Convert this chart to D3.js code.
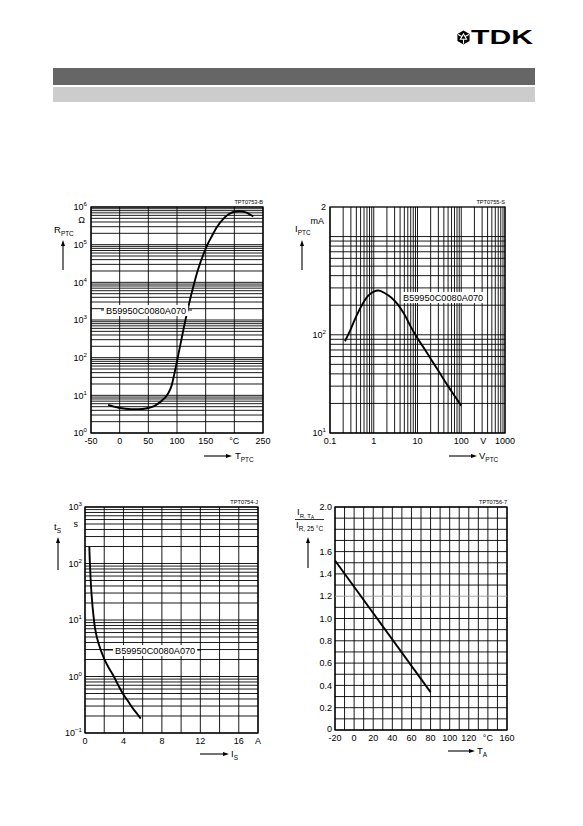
<!DOCTYPE html>
<html><head><meta charset="utf-8">
<script src="https://cdn.jsdelivr.net/npm/d3@7/dist/d3.min.js"></script>
<style>
body{margin:0;background:#fff}
svg{display:block;font-family:"Liberation Sans",Arial,Helvetica,sans-serif}
</style></head>
<body>
<svg id="page" width="583" height="826"></svg>
<script>
// ---------- DATA ----------
// Chart 1: R_PTC vs T_PTC
const rptcTemp = [-20,-10,0,10,20,30,40,50,60,70,75,80,85,90,95,100,105,110,115,120,125,130,135,140,145,150,155,160,170,180,190,200,210,220,233];
const rptcOhm  = [5.6,5.0,4.6,4.4,4.3,4.3,4.35,4.6,5.2,6.5,7.6,9.0,11.5,17,35,80,190,450,1050,2300,4800,9500,18000,31000,50000,78000,115000,160000,300000,470000,640000,750000,770000,720000,560000];
const rptcXTicks = [-50,0,50,100,150,200,250];
const rptcXLabels = ["-50","0","50","100","150","°C","250"];
const rptcYExp = [0,1,2,3,4,5,6];

// Chart 2: I_PTC vs V_PTC
const iptcVolt = [0.22,0.3,0.4,0.55,0.75,1.0,1.3,1.8,2.5,3.5,5,7,10,15,20,30,50,70,100];
const iptcMilliamp = [86,115,155,205,250,275,282,265,240,205,162,121,92,70,57,43,30,24,19];
const iptcXTicks = [0.1,1,10,100,320,1000];
const iptcXLabels = ["0.1","1","10","100","V","1000"];
const iptcYTicks = [10,100,2000];
const iptcYLabels = [["10","1"],["10","2"],["2",""]];

// Chart 3: t_S vs I_S
const tsAmp = [0.45,0.5,0.58,0.7,0.87,1.04,1.38,2.0,2.5,3.0,3.5,4.0,4.5,5.0,5.5,5.8];
const tsSec = [200,110,55,26,12.5,7.2,4.0,2.05,1.4,1.0,0.68,0.48,0.36,0.27,0.21,0.18];
const tsXTicks = [0,4,8,12,16,18];
const tsXLabels = ["0","4","8","12","16","A"];
const tsYExp = [-1,0,1,2,3];

// Chart 4: I_R,TA / I_R,25°C vs T_A
const irTemp = [-20,80];
const irRatio = [1.52,0.34];
const irXTicks = [-20,0,20,40,60,80,100,120,140,160];
const irXLabels = ["-20","0","20","40","60","80","100","120","°C","160"];
const irYTicks = [0,0.2,0.4,0.6,0.8,1.0,1.2,1.4,1.6,2.0];
const irYLabels = ["0","0.2","0.4","0.6","0.8","1.0","1.2","1.4","1.6","2.0"];

const partNo = "B59950C0080A070";

// ---------- HELPERS ----------
const svg = d3.select("#page");
const TICK = 9;

function rich(g, x, y, parts, size, anchor) {
  const t = g.append("text").attr("x", x).attr("y", y)
    .attr("font-size", size).attr("text-anchor", anchor || "start").attr("fill", "#000");
  let cur = 0;
  parts.forEach(p => {
    if (!p.t) return;
    let shift = 0, fs = size;
    if (p.sup) { shift = -size * 0.42; fs = size * 0.68; }
    if (p.sub) { shift = size * 0.3; fs = size * 0.68; }
    t.append("tspan").attr("dy", (shift - cur).toFixed(2)).attr("font-size", fs).text(p.t);
    cur = shift;
  });
  return t;
}

function logGrid(lo, hi) {
  const out = [];
  for (let e = Math.floor(Math.log10(lo)) - 1; e <= Math.ceil(Math.log10(hi)); e++) {
    for (let m = 1; m < 10; m++) {
      const v = +(m * Math.pow(10, e)).toPrecision(6);
      if (v >= lo * 0.9999 && v <= hi * 1.0001) out.push(v);
    }
  }
  return out;
}

function grid(g, x, y, xs, ys, sw) {
  const [X0, X1] = x.range(), [Y1, Y0] = y.range();
  g.append("g").selectAll("line").data(xs).join("line")
    .attr("x1", d => x(d)).attr("x2", d => x(d)).attr("y1", Y0).attr("y2", Y1)
    .attr("stroke", "#000").attr("stroke-width", sw);
  g.append("g").selectAll("line").data(ys).join("line")
    .attr("x1", X0).attr("x2", X1).attr("y1", d => y(d)).attr("y2", d => y(d))
    .attr("stroke", "#000").attr("stroke-width", sw);
  g.append("rect").attr("x", X0).attr("y", Y0).attr("width", X1 - X0).attr("height", Y1 - Y0)
    .attr("fill", "none").attr("stroke", "#000").attr("stroke-width", 1.3);
}

function xLabels(g, x, y, ticks, labels, dy) {
  const Y1 = y.range()[0];
  g.append("g").selectAll("text").data(ticks).join("text")
    .attr("x", d => x(d)).attr("y", Y1 + dy).attr("text-anchor", "middle")
    .attr("font-size", TICK).text((d, i) => labels[i]);
}

function upArrow(g, xp, yb, yt) {
  g.append("line").attr("x1", xp).attr("x2", xp).attr("y1", yb).attr("y2", yt + 5)
    .attr("stroke", "#000").attr("stroke-width", 1.1);
  g.append("path").attr("d", `M${xp - 2},${yt + 6}L${xp},${yt}L${xp + 2},${yt + 6}Z`).attr("fill", "#000");
}
function rightArrow(g, x0, x1, yp) {
  g.append("line").attr("x1", x0).attr("x2", x1 - 5).attr("y1", yp).attr("y2", yp)
    .attr("stroke", "#000").attr("stroke-width", 1.1);
  g.append("path").attr("d", `M${x1 - 6},${yp - 2}L${x1},${yp}L${x1 - 6},${yp + 2}Z`).attr("fill", "#000");
}

function boxLabel(g, xp, yp, txt) {
  const t = g.append("text").attr("x", xp).attr("y", yp).attr("font-size", 9.2).text(txt);
  const b = t.node().getBBox();
  g.insert("rect", "text").attr("x", b.x - 2).attr("y", b.y - 0.5)
    .attr("width", b.width + 4).attr("height", b.height + 1).attr("fill", "#fff");
  return b;
}

function tpt(g, xr, yp, txt) {
  g.append("text").attr("x", xr).attr("y", yp).attr("text-anchor", "end")
    .attr("font-size", 5.6).text(txt);
}

// ---------- HEADER ----------
svg.append("rect").attr("x", 53).attr("y", 68).attr("width", 482).attr("height", 17).attr("fill", "#666666");
svg.append("rect").attr("x", 53).attr("y", 87).attr("width", 482).attr("height", 15).attr("fill", "#cccccc");
svg.append("text").attr("x", 471).attr("y", 44).attr("font-size", 20).attr("font-weight", "bold")
  .attr("textLength", 62).attr("lengthAdjust", "spacingAndGlyphs").text("TDK");
(function logo() {
  const cx = 463.5, cy = 37.5, r = 7;
  const lg = svg.append("g");
  const hex = d3.range(6).map(k => {
    const a = Math.PI / 6 + k * Math.PI / 3;
    return [cx + r * Math.cos(a), cy + r * Math.sin(a)];
  });
  lg.append("path").attr("d", "M" + hex.join("L") + "Z").attr("fill", "#000");
  const tri = d3.range(3).map(k => {
    const a = -Math.PI / 2 + k * 2 * Math.PI / 3;
    return [cx + 3.6 * Math.cos(a), cy + 3.6 * Math.sin(a)];
  });
  lg.append("path").attr("d", "M" + tri.join("L") + "Z").attr("fill", "none").attr("stroke", "#fff").attr("stroke-width", 1.1);
  d3.range(3).forEach(k => {
    const a = Math.PI / 2 + k * 2 * Math.PI / 3;
    lg.append("line").attr("x1", cx + 1.8 * Math.cos(a)).attr("y1", cy + 1.8 * Math.sin(a))
      .attr("x2", cx + 6.2 * Math.cos(a)).attr("y2", cy + 6.2 * Math.sin(a))
      .attr("stroke", "#fff").attr("stroke-width", 1.1);
  });
})();

const smooth = d3.curveCatmullRom.alpha(0.5);
const curvePath = (x, y, xs, ys, curve) =>
  d3.line().x(d => x(d[0])).y(d => y(d[1])).curve(curve)(xs.map((v, i) => [v, ys[i]]));

// ---------- CHART 1 ----------
(function () {
  const g = svg.append("g");
  const x = d3.scaleLinear().domain([-50, 250]).range([91, 263]);
  const y = d3.scaleLog().domain([1, 1e6]).range([433, 207]);
  grid(g, x, y, rptcXTicks, logGrid(1, 1e6), 0.9);
  g.append("path").attr("d", curvePath(x, y, rptcTemp, rptcOhm, smooth))
    .attr("fill", "none").attr("stroke", "#000").attr("stroke-width", 1.9);
  const b = boxLabel(g, 106, 313.5, partNo);
  g.append("line").attr("x1", 101).attr("x2", b.x - 2).attr("y1", 310).attr("y2", 310).attr("stroke", "#000").attr("stroke-width", 0.9);
  g.append("line").attr("x1", b.x + b.width + 2).attr("x2", 192).attr("y1", 310).attr("y2", 310).attr("stroke", "#000").attr("stroke-width", 0.9);
  xLabels(g, x, y, rptcXTicks, rptcXLabels, 10.5);
  rptcYExp.forEach(e => rich(g, 87, y(Math.pow(10, e)) + 3.2, [{t: "10"}, {t: String(e), sup: true}], TICK, "end"));
  rich(g, 85, 223, [{t: "Ω"}], 9, "end");
  rich(g, 54, 233, [{t: "R"}, {t: "PTC", sub: true}], 9.5, "start");
  upArrow(g, 63, 270, 240);
  rightArrow(g, 204, 232, 456);
  rich(g, 235, 459, [{t: "T"}, {t: "PTC", sub: true}], 9.5, "start");
  tpt(g, 263, 204, "TPT0753-B");
})();

// ---------- CHART 2 ----------
(function () {
  const g = svg.append("g");
  const x = d3.scaleLog().domain([0.1, 1000]).range([330, 505]);
  const y = d3.scaleLog().domain([10, 2000]).range([433, 207]);
  grid(g, x, y, logGrid(0.1, 1000), logGrid(10, 1000), 0.9);
  g.append("path").attr("d", curvePath(x, y, iptcVolt, iptcMilliamp, smooth))
    .attr("fill", "none").attr("stroke", "#000").attr("stroke-width", 1.9);
  boxLabel(g, 403, 300.5, partNo);
  xLabels(g, x, y, iptcXTicks, iptcXLabels, 10.5);
  iptcYTicks.forEach((v, i) => rich(g, 326, y(v) + 3.2, [{t: iptcYLabels[i][0]}, {t: iptcYLabels[i][1], sup: true}], TICK, "end"));
  rich(g, 324, 224, [{t: "mA"}], 9, "end");
  rich(g, 295, 232, [{t: "I"}, {t: "PTC", sub: true}], 9.5, "start");
  upArrow(g, 302, 270, 240);
  rightArrow(g, 449, 477, 456);
  rich(g, 479, 459, [{t: "V"}, {t: "PTC", sub: true}], 9.5, "start");
  tpt(g, 505, 204, "TPT0755-S");
})();

// ---------- CHART 3 ----------
(function () {
  const g = svg.append("g");
  const x = d3.scaleLinear().domain([0, 18]).range([85, 258]);
  const y = d3.scaleLog().domain([0.1, 1000]).range([733, 507]);
  grid(g, x, y, d3.range(0, 19, 2), logGrid(0.1, 1000), 0.9);
  g.append("path").attr("d", curvePath(x, y, tsAmp, tsSec, smooth))
    .attr("fill", "none").attr("stroke", "#000").attr("stroke-width", 1.9);
  const b = boxLabel(g, 115, 653.5, partNo);
  g.append("line").attr("x1", 103).attr("x2", b.x - 2).attr("y1", 650).attr("y2", 650).attr("stroke", "#000").attr("stroke-width", 0.9);
  g.append("line").attr("x1", b.x + b.width + 2).attr("x2", b.x + b.width + 6).attr("y1", 650).attr("y2", 650).attr("stroke", "#000").attr("stroke-width", 0.9);
  xLabels(g, x, y, tsXTicks, tsXLabels, 10.5);
  tsYExp.forEach(e => rich(g, 82, y(Math.pow(10, e)) + 3.2, [{t: "10"}, {t: String(e).replace("-", "\u2212"), sup: true}], TICK, "end"));
  rich(g, 78, 527, [{t: "s"}], 9, "end");
  rich(g, 54, 530, [{t: "t"}, {t: "S", sub: true}], 9.5, "start");
  upArrow(g, 58, 570, 537);
  rightArrow(g, 200, 229, 754);
  rich(g, 231, 757, [{t: "I"}, {t: "S", sub: true}], 9.5, "start");
  tpt(g, 258, 504, "TPT0754-J");
})();

// ---------- CHART 4 ----------
(function () {
  const g = svg.append("g");
  const x = d3.scaleLinear().domain([-20, 160]).range([335, 507]);
  const y = d3.scaleLinear().domain([0, 2]).range([730, 507]);
  const yg = d3.range(0, 21).map(k => +(k / 10).toFixed(1));
  grid(g, x, y, d3.range(-20, 161, 10), yg.filter(v => v !== 1.2), 0.9);
  g.append("line").attr("x1", 335).attr("x2", 507).attr("y1", y(1.2)).attr("y2", y(1.2))
    .attr("stroke", "#999").attr("stroke-width", 0.9);
  g.append("path").attr("d", curvePath(x, y, irTemp, irRatio, d3.curveLinear))
    .attr("fill", "none").attr("stroke", "#000").attr("stroke-width", 1.9);
  xLabels(g, x, y, irXTicks, irXLabels, 10.5);
  irYTicks.forEach((v, i) => g.append("text").attr("x", 332).attr("y", y(v) + (v === 0 ? 1.5 : 3.2))
    .attr("text-anchor", "end").attr("font-size", TICK).text(irYLabels[i]));
  const nt = g.append("text").attr("x", 297).attr("y", 515).attr("font-size", 9.5);
  nt.append("tspan").text("I");
  nt.append("tspan").attr("dy", 2.6).attr("font-size", 6).text("R, T");
  nt.append("tspan").attr("dy", 1.6).attr("font-size", 4.5).text("A");
  g.append("line").attr("x1", 295).attr("x2", 324).attr("y1", 519.5).attr("y2", 519.5).attr("stroke", "#000").attr("stroke-width", 0.8);
  rich(g, 296, 528, [{t: "I"}, {t: "R, 25 °C", sub: true}], 9.5, "start");
  upArrow(g, 308, 568, 537);
  rightArrow(g, 448, 475, 751);
  rich(g, 477, 754, [{t: "T"}, {t: "A", sub: true}], 9.5, "start");
  tpt(g, 507, 504, "TPT0756-7");
})();
</script>
</body></html>
